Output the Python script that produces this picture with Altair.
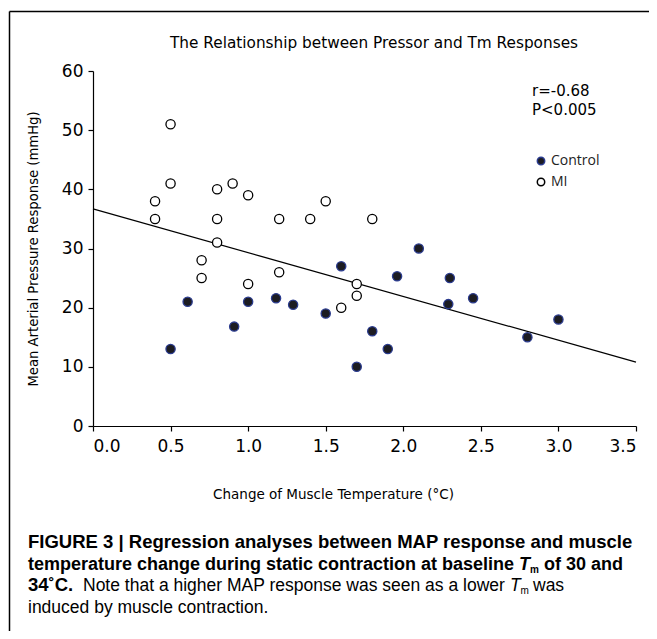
import altair as alt
import pandas as pd

# ---- data ----
ctl_x = [0.5, 0.61, 0.91, 1.0, 1.18, 1.29, 1.5, 1.6, 1.7, 1.8, 1.9, 1.96, 2.1, 2.29, 2.3, 2.45, 2.8, 3.0]
ctl_y = [13, 21, 16.8, 21, 21.6, 20.5, 19, 27, 10, 16, 13, 25.3, 30, 20.6, 25, 21.6, 15, 18]
mi_x = [0.4, 0.4, 0.5, 0.5, 0.7, 0.7, 0.8, 0.8, 0.8, 0.9, 1.0, 1.0, 1.2, 1.2, 1.4, 1.5, 1.6, 1.7, 1.7, 1.8]
mi_y = [38, 35, 51, 41, 28, 25, 40, 35, 31, 41, 39, 24, 35, 26, 35, 38, 20, 24, 22, 35]
fit_x = [0.0, 3.5]
fit_y = [36.7, 10.8]
groups = ["Control", "MI"]
x_ticks = [0.0, 0.5, 1.0, 1.5, 2.0, 2.5, 3.0, 3.5]
y_ticks = [0, 10, 20, 30, 40, 50, 60]

chart_title = ["The Relationship between Pressor and Tm Responses"]
stats_text = ["r=-0.68", "P<0.005"]
cap1 = ["FIGURE 3 | Regression analyses between MAP response and muscle"]
cap2a = ["temperature change during static contraction at baseline"]
cap2b = ["of 30 and"]
cap3a = ["34˚C."]
cap3b = ["Note that a higher MAP response was seen as a lower"]
cap3c = ["was"]
cap4 = ["induced by muscle contraction."]
t_letter = ["T"]
m_sub = ["m"]

pts = pd.DataFrame({
    "temp": ctl_x + mi_x,
    "map": ctl_y + mi_y,
    "group": ["Control"] * len(ctl_x) + ["MI"] * len(mi_x),
})
fit = pd.DataFrame({"temp": fit_x, "map": fit_y})

W, H = 543, 355
FONT = "DejaVu Sans"
CAPF = "Liberation Sans"

xs = alt.Scale(domain=[0, 3.5], nice=False, zero=False)
ys = alt.Scale(domain=[0, 60], nice=False)
x_axis = alt.Axis(values=x_ticks, format=".1f", title="Change of Muscle Temperature (°C)",
                  grid=False, tickSize=5, labelPadding=7, titlePadding=33,
                  titleX=240, titleAnchor="start", titleAlign="center")
y_axis = alt.Axis(values=y_ticks, format="d", title="Mean Arterial Pressure Response (mmHg)",
                  grid=False, tickSize=5, labelPadding=5, titlePadding=21, titleFontSize=13.2)

X = alt.X("temp:Q", scale=xs, axis=x_axis)
Y = alt.Y("map:Q", scale=ys, axis=y_axis)

line = alt.Chart(fit).mark_line(color="black", strokeWidth=1.2).encode(x=X, y=Y)

leg = dict(title=None, orient="none", legendX=441, legendY=83,
           labelFont="Open Sans", labelFontSize=14, labelColor="#222",
           symbolSize=55, symbolStrokeWidth=1.5, rowPadding=7, labelOffset=3)

points = alt.Chart(pts).mark_point(shape="circle", size=85, strokeWidth=1.3, opacity=1, filled=True).encode(
    x=X, y=Y,
    fill=alt.Fill("group:N", scale=alt.Scale(domain=groups, range=["#1c1c22", "white"]),
                  legend=alt.Legend(**leg)),
    stroke=alt.Stroke("group:N", scale=alt.Scale(domain=groups, range=["#2a3b8f", "black"]),
                      legend=alt.Legend(**leg)),
)


def txt(lines, x, y, size, font=FONT, weight="normal", style="normal", align="left",
        baseline="alphabetic", lh=None):
    kw = dict(font=font, fontSize=size, fontWeight=weight, fontStyle=style, align=align,
              baseline=baseline, color="black")
    if lh is not None:
        kw["lineHeight"] = lh
        kw["lineBreak"] = "\n"
    df = pd.DataFrame({"t": ["\n".join(lines)]})
    return alt.Chart(df).mark_text(**kw).encode(x=alt.value(x), y=alt.value(y), text="t:N")


ox, oy = 93, 71  # plot origin on page (for converting page positions)

title = txt(chart_title, 374 - ox, 48 - oy, 15.3, align="center")
stats = txt(stats_text, 532 - ox, 96 - oy, 15, lh=19)

c1 = txt(cap1, 28 - ox, 548 - oy, 18.5, font=CAPF, weight="bold")
c2a = txt(cap2a, 28 - ox, 569.5 - oy, 18, font=CAPF, weight="bold")
c2t = txt(t_letter, 519 - ox, 569.5 - oy, 18, font=CAPF, weight="bold", style="italic")
c2m = txt(m_sub, 530 - ox, 572.5 - oy, 10, font=CAPF, weight="bold")
c2b = txt(cap2b, 544 - ox, 569.5 - oy, 18, font=CAPF, weight="bold")
c3a = txt(cap3a, 28 - ox, 591 - oy, 18.5, font=CAPF, weight="bold")
c3b = txt(cap3b, 83 - ox, 591 - oy, 17.5, font=CAPF)
c3t = txt(t_letter, 510 - ox, 591 - oy, 17.5, font=CAPF, style="italic")
c3m = txt(m_sub, 520.5 - ox, 594 - oy, 10, font=CAPF)
c3c = txt(cap3c, 533 - ox, 591 - oy, 17.5, font=CAPF)
c4 = txt(cap4, 28 - ox, 612.5 - oy, 17.5, font=CAPF)

frame_df = pd.DataFrame({"k": [1]})
left_border = alt.Chart(frame_df).mark_rule(color="black", strokeWidth=1.5).encode(
    x=alt.value(9.5 - ox), y=alt.value(11.5 - oy), y2=alt.value(700))
top_border = alt.Chart(frame_df).mark_rule(color="black", strokeWidth=1.5).encode(
    x=alt.value(9.5 - ox), x2=alt.value(700), y=alt.value(11.5 - oy))

chart = alt.layer(
    left_border, top_border, line, points, title, stats,
    c1, c2a, c2t, c2m, c2b, c3a, c3b, c3t, c3m, c3c, c4,
).properties(
    width=W, height=H,
    autosize=alt.AutoSizeParams(type="none"),
    padding={"left": ox - 8, "top": oy - 8, "right": 641 - (ox - 8) - W, "bottom": 623 - (oy - 8) - H},
).configure_view(stroke=None).configure_axis(
    domainColor="black", tickColor="black", domainWidth=1.2, tickWidth=1.2,
    labelFont=FONT, labelFontSize=17, labelColor="black",
    titleFont=FONT, titleFontSize=13.5, titleFontWeight="normal", titleColor="black",
)

chart.save("out.html", embed_options={"renderer": "svg", "actions": False})
